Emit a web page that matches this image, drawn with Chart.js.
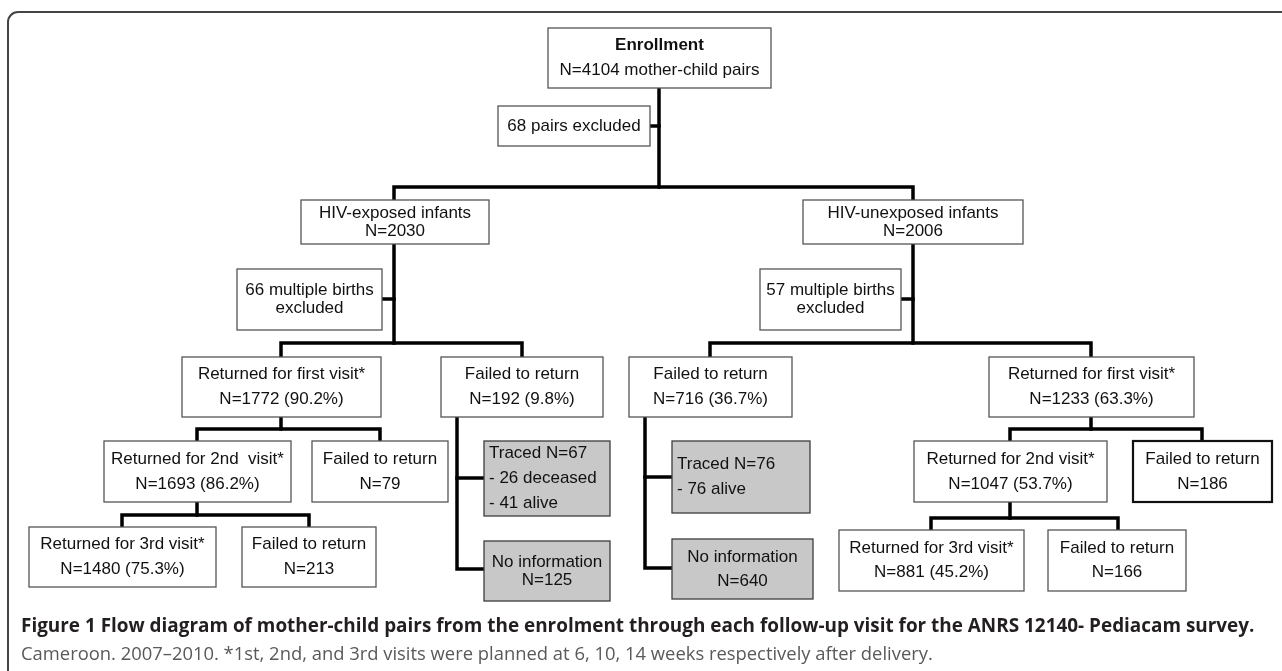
<!DOCTYPE html>
<html>
<head>
<meta charset="utf-8">
<script src="https://cdn.jsdelivr.net/npm/chart.js@4/dist/chart.umd.min.js"></script>
<style>
  html, body { margin: 0; padding: 0; background: #fff; }
  #wrap { width: 1282px; height: 671px; position: relative; }
</style>
</head>
<body>
<div id="wrap"><canvas id="flow"></canvas></div>
<script>
// box texts (one array entry per box, one string per line)
const boxText = [
  ["Enrollment", "N=4104 mother-child pairs"],
  ["68 pairs excluded"],
  ["HIV-exposed infants", "N=2030"],
  ["HIV-unexposed infants", "N=2006"],
  ["66 multiple births", "excluded"],
  ["57 multiple births", "excluded"],
  ["Returned for first visit*", "N=1772 (90.2%)"],
  ["Failed to return", "N=192 (9.8%)"],
  ["Failed to return", "N=716 (36.7%)"],
  ["Returned for first visit*", "N=1233 (63.3%)"],
  ["Returned for 2nd  visit*", "N=1693 (86.2%)"],
  ["Failed to return", "N=79"],
  ["Returned for 2nd visit*", "N=1047 (53.7%)"],
  ["Failed to return", "N=186"],
  ["Returned for 3rd visit*", "N=1480 (75.3%)"],
  ["Failed to return", "N=213"],
  ["Returned for 3rd visit*", "N=881 (45.2%)"],
  ["Failed to return", "N=166"],
  ["Traced N=67", "- 26 deceased", "- 41 alive"],
  ["No information", "N=125"],
  ["Traced N=76", "- 76 alive"],
  ["No information", "N=640"]
];
const tracedBoxes = [18, 19, 20, 21];
const leftAlignedBoxes = [18, 20];

const captionTitle = "Figure 1 Flow diagram of mother-child pairs from the enrolment through each follow-up visit for the ANRS 12140- Pediacam survey.";
const captionNote = "Cameroon. 2007\u20132010. *1st, 2nd, and 3rd visits were planned at 6, 10, 14 weeks respectively after delivery.";

// layout in axis units: [x1, y1, x2, y2], line gap
const boxRect = [
  [548, 28, 771, 88], [498, 106, 650, 146],
  [301, 200, 489, 244], [803, 200, 1023, 244],
  [237, 269, 382, 330], [760, 269, 901, 330],
  [182, 357, 381, 417], [441, 357, 603, 417],
  [629, 357, 792, 417], [989, 357, 1194, 417],
  [104, 441, 291, 502], [312, 441, 448, 502],
  [914, 441, 1107, 502], [1133, 441, 1272, 502],
  [29, 527, 216, 587], [242, 527, 376, 587],
  [839, 530, 1024, 591], [1048, 530, 1186, 591],
  [484, 441, 610, 516], [484, 541, 610, 601],
  [672, 441, 810, 513], [672, 539, 813, 599]
];
const boxGap = [25, 0, 18, 18, 18, 18, 25, 25, 25, 25, 25, 25, 25, 25, 25, 25, 24, 24, 25, 18, 25, 24];

// connector polylines
const links = [
  [[659, 88], [659, 187]],
  [[650, 126], [659, 126]],
  [[394, 200], [394, 187], [913, 187], [913, 200]],
  [[394, 244], [394, 343]],
  [[382, 299], [394, 299]],
  [[281, 357], [281, 343], [522, 343], [522, 357]],
  [[913, 244], [913, 343]],
  [[901, 299], [913, 299]],
  [[710, 357], [710, 343], [1091, 343], [1091, 357]],
  [[281, 417], [281, 429]],
  [[197, 441], [197, 429], [380, 429], [380, 441]],
  [[197, 502], [197, 515]],
  [[122, 527], [122, 515], [309, 515], [309, 527]],
  [[457, 417], [457, 569], [484, 569]],
  [[457, 478], [484, 478]],
  [[645, 417], [645, 568], [672, 568]],
  [[645, 477], [672, 477]],
  [[1091, 417], [1091, 429]],
  [[1010, 441], [1010, 429], [1202, 429], [1202, 441]],
  [[1010, 502], [1010, 518]],
  [[931, 530], [931, 518], [1118, 518], [1118, 530]]
];

const boxFont = '17px "Liberation Sans", Arial, sans-serif';

// draws boxes, frame and caption with the chart scales
const flowBoxes = {
  id: "flowBoxes",
  beforeDatasetsDraw(chart) {
    const { ctx, scales: { x, y } } = chart;
    ctx.save();
    // outer frame: top and left edges, rounded corner
    const fx1 = x.getPixelForValue(8), fy1 = y.getPixelForValue(12);
    const fx2 = x.getPixelForValue(1290), fy2 = y.getPixelForValue(680);
    const rad = 10;
    ctx.beginPath();
    ctx.moveTo(fx2, fy1);
    ctx.lineTo(fx1 + rad, fy1);
    ctx.arcTo(fx1, fy1, fx1, fy1 + rad, rad);
    ctx.lineTo(fx1, fy2);
    ctx.lineWidth = 2;
    ctx.strokeStyle = "#444444";
    ctx.stroke();

    // caption
    const fit = (txt, weight, target) => {
      ctx.font = weight + ' 20px "Open Sans", sans-serif';
      const w = ctx.measureText(txt).width;
      return weight + " " + (20 * target / w).toFixed(2) + 'px "Open Sans", sans-serif';
    };
    ctx.textAlign = "left";
    ctx.textBaseline = "middle";
    ctx.fillStyle = "#231f20";
    ctx.font = fit(captionTitle, "bold", 1234);
    ctx.fillText(captionTitle, x.getPixelForValue(21), y.getPixelForValue(627));
    ctx.fillStyle = "#58595b";
    ctx.font = fit(captionNote, "normal", 912);
    ctx.fillText(captionNote, x.getPixelForValue(21), y.getPixelForValue(655));
    ctx.restore();
  },
  afterDatasetsDraw(chart) {
    const { ctx, scales: { x, y } } = chart;
    ctx.save();
    boxRect.forEach((r, i) => {
      const x1 = x.getPixelForValue(r[0]), y1 = y.getPixelForValue(r[1]);
      const x2 = x.getPixelForValue(r[2]), y2 = y.getPixelForValue(r[3]);
      const gray = tracedBoxes.includes(i);
      ctx.fillStyle = gray ? "#c8c8c8" : "#ffffff";
      ctx.fillRect(x1, y1, x2 - x1, y2 - y1);
      ctx.lineWidth = (i === 13) ? 2.2 : 1.3;
      ctx.strokeStyle = (i === 13) ? "#111111" : gray ? "#3c3c3c" : "#555555";
      ctx.strokeRect(x1, y1, x2 - x1, y2 - y1);

      const lines = boxText[i];
      const cy = (y1 + y2) / 2;
      const left = leftAlignedBoxes.includes(i);
      ctx.fillStyle = "#111111";
      ctx.textBaseline = "middle";
      lines.forEach((t, k) => {
        const ty = cy + (k - (lines.length - 1) / 2) * boxGap[i];
        ctx.font = (i === 0 && k === 0) ? "bold " + boxFont : boxFont;
        if (left) {
          ctx.textAlign = "left";
          ctx.fillText(t, x1 + 5, ty);
        } else {
          ctx.textAlign = "center";
          ctx.fillText(t, (x1 + x2) / 2, ty);
        }
      });
    });
    ctx.restore();
  }
};

const datasets = links.map(pts => ({
  data: pts.map(p => ({ x: p[0], y: p[1] })),
  showLine: true,
  borderColor: "#000000",
  borderWidth: 3.5,
  pointRadius: 0,
  fill: false,
  tension: 0,
  borderCapStyle: "square",
  borderJoinStyle: "miter"
}));

new Chart(document.getElementById("flow"), {
  type: "scatter",
  data: { datasets },
  options: {
    responsive: true,
    maintainAspectRatio: false,
    animation: false,
    layout: { padding: 0 },
    plugins: {
      legend: { display: false },
      tooltip: { enabled: false }
    },
    scales: {
      x: { type: "linear", min: 0, max: 1282, display: false },
      y: { type: "linear", min: 0, max: 671, reverse: true, display: false }
    }
  },
  plugins: [flowBoxes]
});
</script>
</body>
</html>
